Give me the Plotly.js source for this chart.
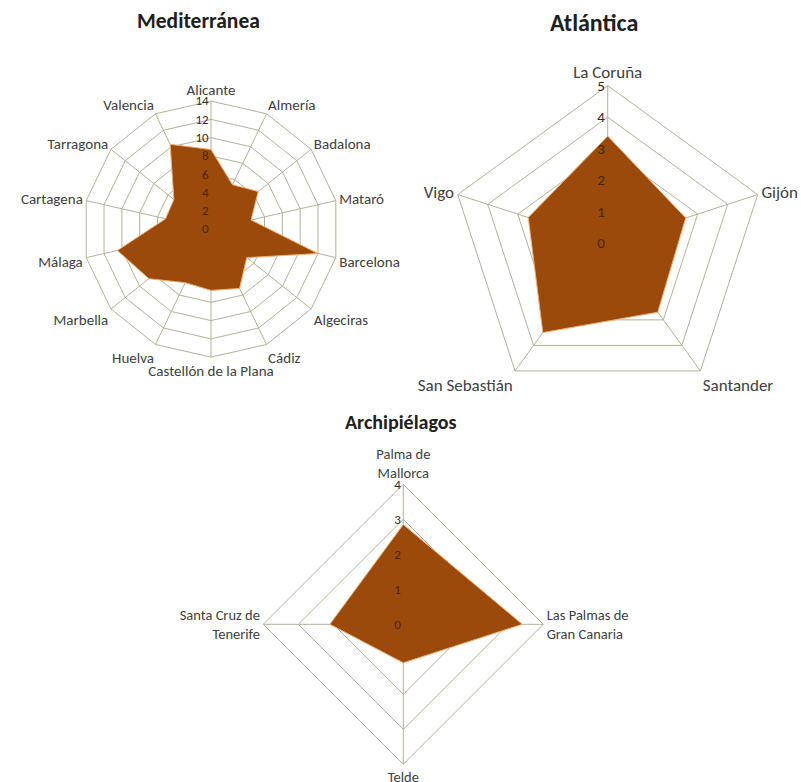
<!DOCTYPE html>
<html>
<head>
<meta charset="utf-8">
<script src="https://cdn.plot.ly/plotly-3.0.1.min.js"></script>
<style>html,body{margin:0;padding:0;background:#fff;}#chart{width:801px;height:782px;}</style>
</head>
<body>
<div id="chart"></div>
<script>
// Data
const medCities = ["Alicante","Almería","Badalona","Mataró","Barcelona","Algeciras","Cádiz","Castellón de la Plana","Huelva","Marbella","Málaga","Cartagena","Tarragona","Valencia"];
const medValues = [8.7, 5.4, 6.6, 4.5, 12.0, 5.0, 7.2, 6.7, 6.5, 8.7, 10.5, 5.1, 5.2, 10.3];
const atlCities = ["La Coruña","Gijón","Santander","San Sebastián","Vigo"];
const atlValues = [3.4, 2.6, 2.7, 3.5, 2.65];
const arcCities = ["Palma de<br>Mallorca","Las Palmas de<br>Gran Canaria","Telde","Santa Cruz de<br>Tenerife"];
const arcValues = [2.85, 3.4, 1.1, 2.1];
const titles = ["Mediterránea","Atlántica","Archipiélagos"];
const radialMax = [14, 5, 4];
const radialStep = [2, 1, 1];

const FONT = "Calibri, Carlito, Lato, 'Open Sans', sans-serif";
const FILL = "#9c4a0c";
const EDGE = "#f2b070";
const GRID = "#b3b09a";

function closed(arr){ return arr.concat([arr[0]]); }

const sets = [[medCities, medValues],[atlCities, atlValues],[arcCities, arcValues]];
const traces = [];
sets.forEach((s, i) => {
  const sub = i === 0 ? "polar" : "polar" + (i+1);
  traces.push({
    type: "scatterpolar", subplot: sub,
    r: closed(s[1]), theta: closed(s[0]),
    mode: "lines", fill: "toself", fillcolor: FILL,
    line: {color: EDGE, width: 1}, hoverinfo: "r+theta", showlegend: false
  });
  traces.push({
    type: "scatterpolar", subplot: sub,
    r: [0], theta: [s[0][0]], mode: "markers",
    marker: {color: "#6b8f4e", size: 4, opacity: 0.7}, showlegend: false, hoverinfo: "skip"
  });
});

function polar(domx, domy, cats, max, step, catSize, tickSize){
  return {
    domain: {x: domx, y: domy},
    gridshape: "linear",
    bgcolor: "rgba(0,0,0,0)",
    angularaxis: {
      type: "category", categoryarray: cats, direction: "clockwise", rotation: 90,
      showline: true, linecolor: GRID, linewidth: 1,
      showgrid: true, gridcolor: GRID, gridwidth: 1,
      ticks: "", tickfont: {family: FONT, size: catSize, color: "#404040"}
    },
    radialaxis: {
      range: [0, max], dtick: step, tick0: 0, angle: 90, side: "counterclockwise",
      showline: false, showgrid: true, gridcolor: GRID, gridwidth: 1,
      ticks: "", tickangle: 90, tickfont: {family: FONT, size: tickSize, color: "#402818"},
      layer: "above traces"
    }
  };
}

function title(txt, x, y, size){
  return {text: "<b>" + txt + "</b>", x: x/801, y: 1 - y/782, xref: "paper", yref: "paper",
    xanchor: "center", yanchor: "middle", showarrow: false, font: {family: FONT, size: size, color: "#202020"}};
}

const layout = {
  width: 801, height: 782,
  margin: {l: 0, r: 0, t: 0, b: 0},
  paper_bgcolor: "#ffffff",
  showlegend: false,
  polar: polar([0.1024, 0.4245], [0.5433, 0.8707], medCities, radialMax[0], radialStep[0], 15, 13),
  polar2: polar([0.5618, 0.9556], [0.4872, 0.8905], atlCities, radialMax[1], radialStep[1], 17, 15),
  polar3: polar([0.3287, 0.6783], [0.0226, 0.3807], arcCities, radialMax[2], radialStep[2], 14.5, 13),
  annotations: [
    title(titles[0], 198, 21, 21.5),
    title(titles[1], 594, 22, 24),
    title(titles[2], 400, 422, 20)
  ]
};

Plotly.newPlot("chart", traces, layout, {displayModeBar: false, staticPlot: true});
</script>
</body>
</html>
